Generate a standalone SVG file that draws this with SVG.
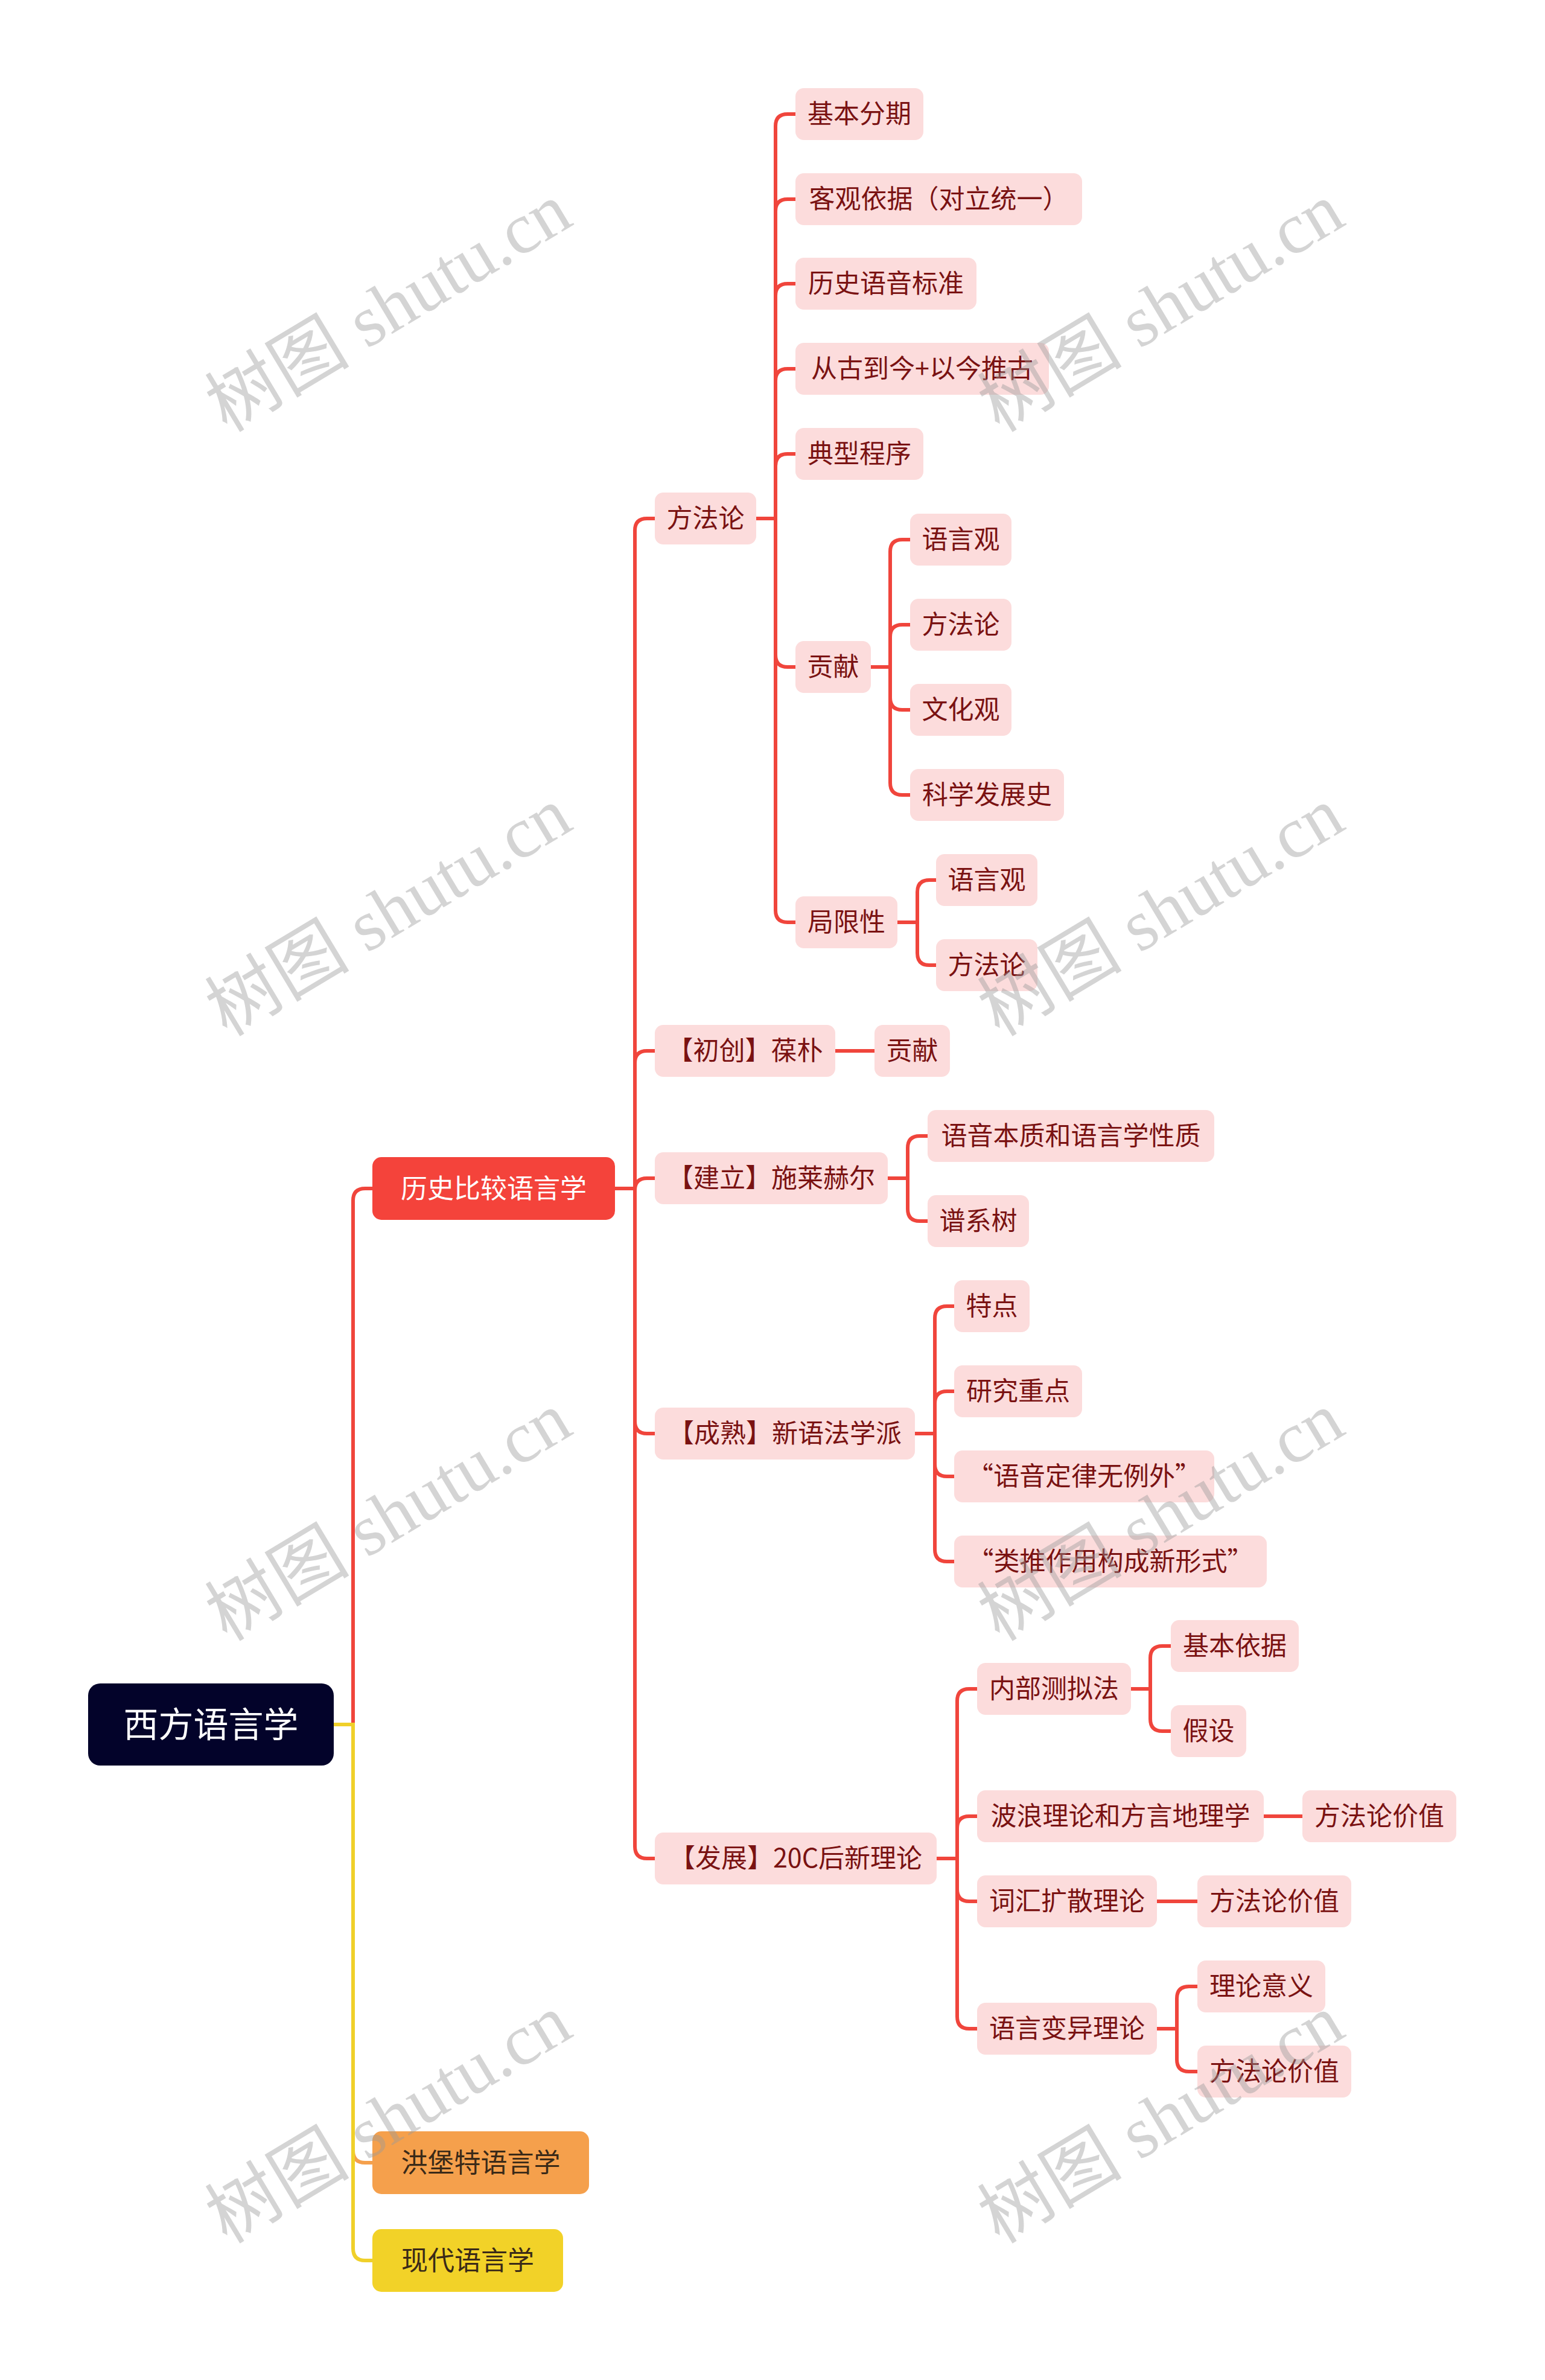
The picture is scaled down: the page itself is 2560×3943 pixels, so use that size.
<svg xmlns="http://www.w3.org/2000/svg" width="2560" height="3943" viewBox="0 0 2560 3943">
<style>
.t{font-family:"Noto Sans CJK SC","Noto Sans",sans-serif;text-anchor:middle}
.n rect{fill:#fcdcdc}
.n text{font-size:43px;fill:#7a1212}
.c{fill:none;stroke-width:6;stroke-linecap:butt}
.r{stroke:#f0453c}
.o{stroke:#f5a04c}
.y{stroke:#f0d02a}
.wm{font-family:"Liberation Serif","Noto Sans CJK SC",serif;font-size:120px;fill:#999;fill-opacity:0.42;text-anchor:middle}
</style>
<rect width="2560" height="3943" fill="#ffffff"/>
<g id="connectors">
<path class="c r" d="M553 2857H585V1989Q585 1969 605 1969H617"/>
<path class="c o" d="M553 2857H585V3563Q585 3583 605 3583H617"/>
<path class="c y" d="M553 2857H585V3725Q585 3745 605 3745H617"/>
<g class="c r">
<path d="M1019 1969H1052V879Q1052 859 1072 859H1085"/>
<path d="M1019 1969H1052V1761Q1052 1741 1072 1741H1085"/>
<path d="M1019 1969H1052V1972Q1052 1952 1072 1952H1085" />
<path d="M1019 1969H1052V2355Q1052 2375 1072 2375H1085"/>
<path d="M1019 1969H1052V3059Q1052 3079 1072 3079H1085"/>
<path d="M1253 859H1285V209Q1285 189 1305 189H1318"/>
<path d="M1253 859H1285V350Q1285 330 1305 330H1318"/>
<path d="M1253 859H1285V490Q1285 470 1305 470H1318"/>
<path d="M1253 859H1285V631Q1285 611 1305 611H1318"/>
<path d="M1253 859H1285V772Q1285 752 1305 752H1318"/>
<path d="M1253 859H1285V1085Q1285 1105 1305 1105H1318"/>
<path d="M1253 859H1285V1508Q1285 1528 1305 1528H1318"/>
<path d="M1443 1105H1475V914Q1475 894 1495 894H1508"/>
<path d="M1443 1105H1475V1055Q1475 1035 1495 1035H1508"/>
<path d="M1443 1105H1475V1156Q1475 1176 1495 1176H1508"/>
<path d="M1443 1105H1475V1297Q1475 1317 1495 1317H1508"/>
<path d="M1487 1528H1520V1478Q1520 1458 1540 1458H1551"/>
<path d="M1487 1528H1520V1579Q1520 1599 1540 1599H1551"/>
<path d="M1384 1741H1449"/>
<path d="M1471 1952H1504V1902Q1504 1882 1524 1882H1537"/>
<path d="M1471 1952H1504V2003Q1504 2023 1524 2023H1537"/>
<path d="M1516 2375H1549V2184Q1549 2164 1569 2164H1581"/>
<path d="M1516 2375H1549V2325Q1549 2305 1569 2305H1581"/>
<path d="M1516 2375H1549V2426Q1549 2446 1569 2446H1581"/>
<path d="M1516 2375H1549V2567Q1549 2587 1569 2587H1581"/>
<path d="M1552 3079H1586V2818Q1586 2798 1606 2798H1619"/>
<path d="M1552 3079H1586V3029Q1586 3009 1606 3009H1619"/>
<path d="M1552 3079H1586V3130Q1586 3150 1606 3150H1619"/>
<path d="M1552 3079H1586V3341Q1586 3361 1606 3361H1619"/>
<path d="M1874 2798H1906V2747Q1906 2727 1926 2727H1940"/>
<path d="M1874 2798H1906V2848Q1906 2868 1926 2868H1940"/>
<path d="M2093 3009H2158"/>
<path d="M1917 3150H1984"/>
<path d="M1917 3361H1950V3311Q1950 3291 1970 3291H1984"/>
<path d="M1917 3361H1950V3412Q1950 3432 1970 3432H1984"/>
</g>
</g>
<g id="root">
<rect x="146" y="2789" width="407" height="136" rx="20" fill="#03032a"/>
<text class="t" x="349.5" y="2878" font-size="58" fill="#ffffff">西方语言学</text>
</g>
<g id="l1-history">
<rect x="617" y="1917" width="402" height="104" rx="15" fill="#f4433b"/>
<text class="t" x="818" y="1985" font-size="44" fill="#ffffff">历史比较语言学</text>
</g>
<g id="l1-humboldt">
<rect x="617" y="3531" width="359" height="104" rx="15" fill="#f5a04c"/>
<text class="t" x="796.5" y="3599" font-size="44" fill="#3a2a18">洪堡特语言学</text>
</g>
<g id="l1-modern">
<rect x="617" y="3693" width="316" height="104" rx="15" fill="#f2d228"/>
<text class="t" x="775" y="3761" font-size="44" fill="#3a2a18">现代语言学</text>
</g>
<g class="n t">
<g id="n-fangfalun"><rect x="1085" y="816" width="168" height="86" rx="14"/><text x="1169" y="874">方法论</text></g>
<g id="n-jibenfenqi"><rect x="1318" y="146" width="212" height="86" rx="14"/><text x="1424" y="204">基本分期</text></g>
<g id="n-keguan"><rect x="1318" y="287" width="475" height="86" rx="14"/><text x="1555.5" y="345">客观依据（对立统一）</text></g>
<g id="n-lishiyuyin"><rect x="1318" y="427" width="300" height="86" rx="14"/><text x="1468" y="485">历史语音标准</text></g>
<g id="n-conggu"><rect x="1318" y="568" width="420" height="86" rx="14"/><text x="1528" y="626">从古到今+以今推古</text></g>
<g id="n-dianxing"><rect x="1318" y="709" width="212" height="86" rx="14"/><text x="1424" y="767">典型程序</text></g>
<g id="n-gongxian1"><rect x="1318" y="1062" width="125" height="86" rx="14"/><text x="1380.5" y="1120">贡献</text></g>
<g id="n-yuyanguan1"><rect x="1508" y="851" width="168" height="86" rx="14"/><text x="1592" y="909">语言观</text></g>
<g id="n-fangfalun2"><rect x="1508" y="992" width="168" height="86" rx="14"/><text x="1592" y="1050">方法论</text></g>
<g id="n-wenhuaguan"><rect x="1508" y="1133" width="168" height="86" rx="14"/><text x="1592" y="1191">文化观</text></g>
<g id="n-kexue"><rect x="1508" y="1274" width="255" height="86" rx="14"/><text x="1635.5" y="1332">科学发展史</text></g>
<g id="n-juxian"><rect x="1318" y="1485" width="169" height="86" rx="14"/><text x="1402.5" y="1543">局限性</text></g>
<g id="n-yuyanguan2"><rect x="1551" y="1415" width="168" height="86" rx="14"/><text x="1635" y="1473">语言观</text></g>
<g id="n-fangfalun3"><rect x="1551" y="1556" width="168" height="86" rx="14"/><text x="1635" y="1614">方法论</text></g>
<g id="n-chuchuang"><rect x="1085" y="1698" width="299" height="86" rx="14"/><text x="1234.5" y="1756">【初创】葆朴</text></g>
<g id="n-gongxian2"><rect x="1449" y="1698" width="125" height="86" rx="14"/><text x="1511.5" y="1756">贡献</text></g>
<g id="n-jianli"><rect x="1085" y="1909" width="386" height="86" rx="14"/><text x="1278" y="1967">【建立】施莱赫尔</text></g>
<g id="n-yuyinbenzhi"><rect x="1537" y="1839" width="475" height="86" rx="14"/><text x="1774.5" y="1897">语音本质和语言学性质</text></g>
<g id="n-puxishu"><rect x="1537" y="1980" width="168" height="86" rx="14"/><text x="1621" y="2038">谱系树</text></g>
<g id="n-chengshu"><rect x="1085" y="2332" width="431" height="86" rx="14"/><text x="1300.5" y="2390">【成熟】新语法学派</text></g>
<g id="n-tedian"><rect x="1581" y="2121" width="125" height="86" rx="14"/><text x="1643.5" y="2179">特点</text></g>
<g id="n-yanjiu"><rect x="1581" y="2262" width="212" height="86" rx="14"/><text x="1687" y="2320">研究重点</text></g>
<g id="n-dinglv"><rect x="1581" y="2403" width="431" height="86" rx="14"/><text x="1796.5" y="2461">“语音定律无例外”</text></g>
<g id="n-leitui"><rect x="1581" y="2544" width="518" height="86" rx="14"/><text x="1840" y="2602">“类推作用构成新形式”</text></g>
<g id="n-fazhan"><rect x="1085" y="3036" width="467" height="86" rx="14"/><text x="1318.5" y="3094">【发展】20C后新理论</text></g>
<g id="n-neibu"><rect x="1619" y="2755" width="255" height="86" rx="14"/><text x="1746.5" y="2813">内部测拟法</text></g>
<g id="n-jibenyiju"><rect x="1940" y="2684" width="212" height="86" rx="14"/><text x="2046" y="2742">基本依据</text></g>
<g id="n-jiashe"><rect x="1940" y="2825" width="125" height="86" rx="14"/><text x="2002.5" y="2883">假设</text></g>
<g id="n-bolang"><rect x="1619" y="2966" width="475" height="86" rx="14"/><text x="1856.5" y="3024">波浪理论和方言地理学</text></g>
<g id="n-jiazhi1"><rect x="2158" y="2966" width="255" height="86" rx="14"/><text x="2285.5" y="3024">方法论价值</text></g>
<g id="n-cihui"><rect x="1619" y="3107" width="298" height="86" rx="14"/><text x="1768" y="3165">词汇扩散理论</text></g>
<g id="n-jiazhi2"><rect x="1984" y="3107" width="255" height="86" rx="14"/><text x="2111.5" y="3165">方法论价值</text></g>
<g id="n-bianyi"><rect x="1619" y="3318" width="298" height="86" rx="14"/><text x="1768" y="3376">语言变异理论</text></g>
<g id="n-lilun"><rect x="1984" y="3248" width="212" height="86" rx="14"/><text x="2090" y="3306">理论意义</text></g>
<g id="n-jiazhi3"><rect x="1984" y="3389" width="255" height="86" rx="14"/><text x="2111.5" y="3447">方法论价值</text></g>
</g>
<g id="watermarks" class="wm">
<text transform="translate(644 510) rotate(-31)" y="40">树图 shutu.cn</text>
<text transform="translate(1924 510) rotate(-31)" y="40">树图 shutu.cn</text>
<text transform="translate(644 1511) rotate(-31)" y="40">树图 shutu.cn</text>
<text transform="translate(1924 1511) rotate(-31)" y="40">树图 shutu.cn</text>
<text transform="translate(644 2513) rotate(-31)" y="40">树图 shutu.cn</text>
<text transform="translate(1924 2513) rotate(-31)" y="40">树图 shutu.cn</text>
<text transform="translate(644 3511) rotate(-31)" y="40">树图 shutu.cn</text>
<text transform="translate(1924 3511) rotate(-31)" y="40">树图 shutu.cn</text>
</g>
</svg>
